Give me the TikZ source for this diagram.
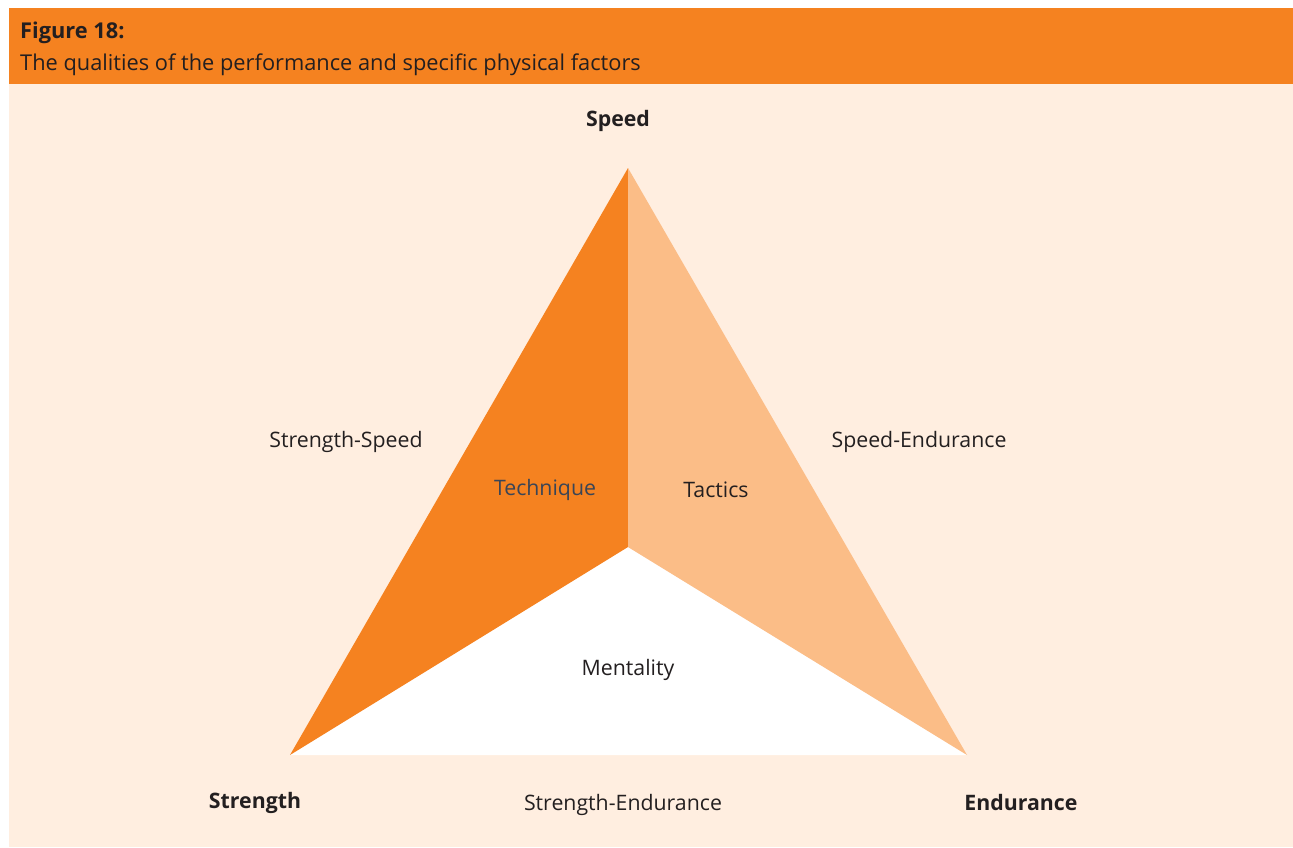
\documentclass[tikz,border=0pt]{standalone}
\usepackage{fontspec}
\setmainfont{Open Sans}
\definecolor{orangeA}{HTML}{F58220}
\definecolor{orangeB}{HTML}{FBBD87}
\definecolor{peach}{HTML}{FFEEE0}
\definecolor{txt}{HTML}{231F20}
\definecolor{slate}{HTML}{3A4556}
\begin{document}
\begin{tikzpicture}[x=1pt,y=-1pt,
  lbl/.style={inner sep=0pt, text=txt, font=\fontsize{21.3}{25}\selectfont},
  blbl/.style={lbl, font=\fontsize{21.3}{25}\selectfont\bfseries},
  hdr/.style={inner sep=0pt, text=txt, font=\fontsize{21.8}{26}\selectfont}]
\useasboundingbox (0,0) rectangle (1293,847);
\fill[white] (0,0) rectangle (1293,847);
\fill[orangeA] (9,8) rectangle (1293,84);
\fill[peach] (9,84) rectangle (1293,847);
\node[hdr, font=\fontsize{21.8}{26}\selectfont\bfseries, anchor=base west] (fig) at (20,38) {Figure 18:};
\node[hdr, anchor=base west] (cap) at (20,70) {The qualities of the performance and specific physical factors};
\coordinate (A) at (628,168);
\coordinate (L) at (290,755);
\coordinate (R) at (967,755);
\coordinate (C) at (628,547);
\fill[white] (L) -- (C) -- (R) -- cycle;
\fill[orangeA] (A) -- (C) -- (L) -- cycle;
\fill[orangeB] (A) -- (C) -- (R) -- cycle;
\node[blbl] (speed) at (618,121) {Speed};
\node[lbl] (ss) at (346,442) {Strength-Speed};
\node[lbl] (se) at (919,442) {Speed-Endurance};
\node[lbl, text=slate] (tech) at (545,490) {Technique};
\node[lbl] (tac) at (716,490) {Tactics};
\node[lbl] (ment) at (628,670) {Mentality};
\node[blbl] (str) at (255,803) {Strength};
\node[lbl] (sen) at (623,805) {Strength-Endurance};
\node[blbl] (end) at (1021,802) {Endurance};
\end{tikzpicture}
\end{document}
